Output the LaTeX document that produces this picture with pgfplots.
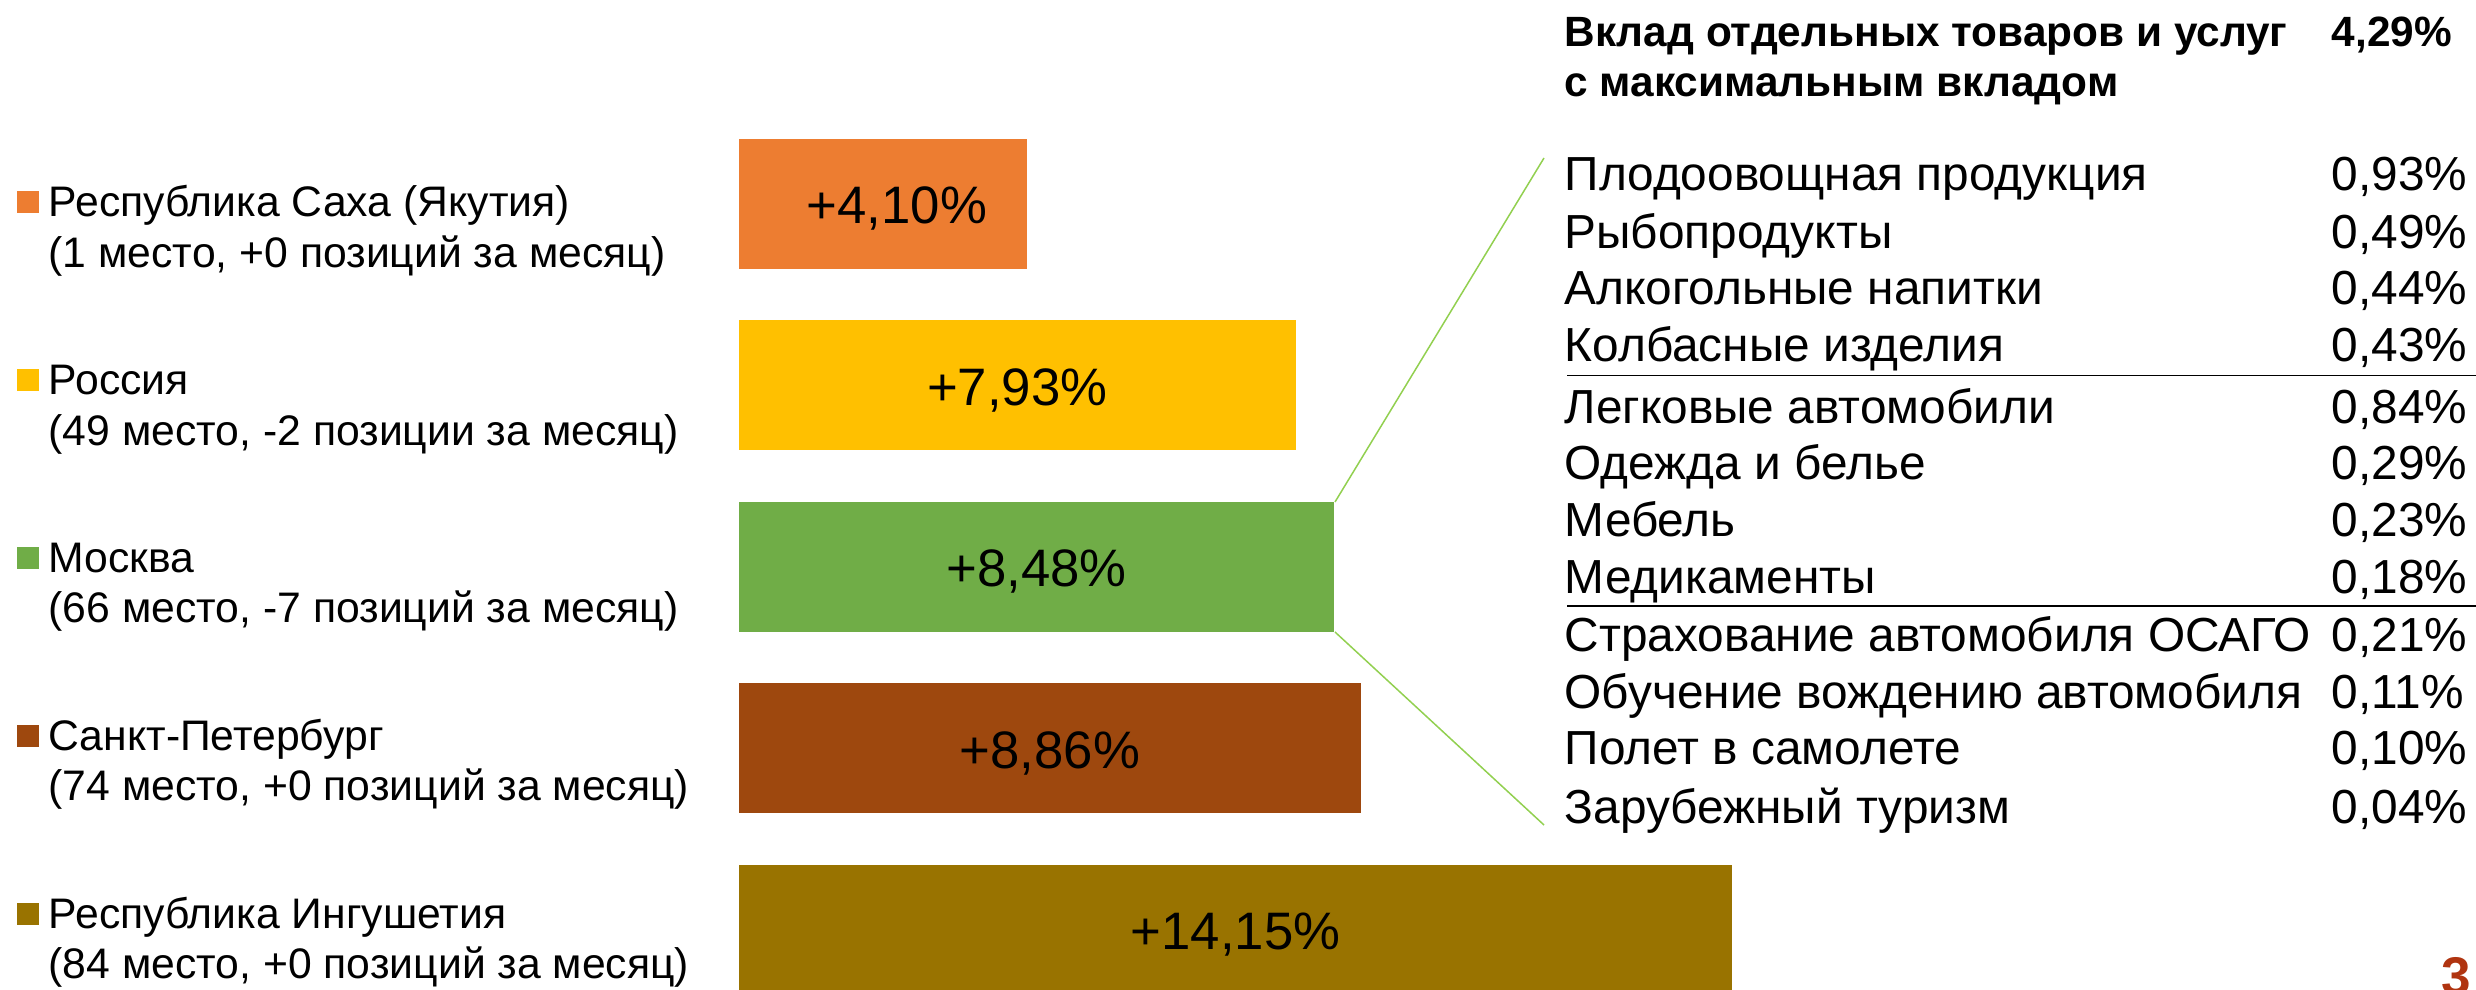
\documentclass[border=0pt]{standalone}
\usepackage{fontspec}
\setmainfont{Liberation Sans}
\usepackage{pgfplots}
\pgfplotsset{compat=1.18}
\definecolor{c1}{HTML}{ED7D31}
\definecolor{c2}{HTML}{FFC000}
\definecolor{c3}{HTML}{70AD47}
\definecolor{c4}{HTML}{9E480E}
\definecolor{c5}{HTML}{997300}
\definecolor{lg}{HTML}{92D050}
\definecolor{pg}{RGB}{176,52,16}
\newcommand{\leg}[3]{\begin{tabular}{@{}l@{\hspace{1mm}}l@{}}\raisebox{0.4mm}{\textcolor{#1}{\rule{2.2mm}{2.2mm}}} & #2\\ & #3\end{tabular}}
\newcommand{\itemfont}{\fontsize{13.6pt}{16.3pt}\selectfont}
\newcommand{\headfont}{\bfseries\fontsize{12.05pt}{14.5pt}\selectfont}
\begin{document}
\begin{tikzpicture}[x=0.1mm,y=-0.1mm]
\useasboundingbox (0,0) rectangle (2476,990);
\begin{axis}[
  at={(73.9mm,-2.2mm)}, anchor=north west,
  x=7.02mm, y=18.15mm, y dir=reverse,
  xmin=0, xmax=15, ymin=0, ymax=5.6,
  xbar, bar width=13mm,
  axis line style={draw=none}, major tick style={draw=none},
  xtick=\empty, ytick={1,2,3,4,5},
  yticklabels={
    {\leg{c1}{Республика Саха (Якутия)}{(1 место, +0 позиций за месяц)}},
    {\leg{c2}{Россия}{(49 место, -2 позиции за месяц)}},
    {\leg{c3}{Москва}{(66 место, -7 позиций за месяц)}},
    {\leg{c4}{Санкт-Петербург}{(74 место, +0 позиций за месяц)}},
    {\leg{c5}{Республика Ингушетия}{(84 место, +0 позиций за месяц)}}
  },
  yticklabel style={anchor=west, inner sep=0pt, xshift=-70.8mm,
    yshift={-2.85mm+\ticknum*0.36mm},
    font=\fontsize{12.15pt}{14.3pt}\selectfont},
  clip=false,
  point meta=x,
  nodes near coords={+\pgfmathprintnumber[fixed,fixed zerofill,precision=2,use comma,assume math mode=true]{\pgfplotspointmeta}\%},
  visualization depends on={x \as \rawx},
  every node near coord/.append style={anchor=center, xshift={-0.5*\rawx*7.02mm}, yshift=-0.5mm, text=black,
    font=\fontsize{15pt}{18pt}\selectfont},
]
\addplot[fill=c1, draw=none, bar shift=0pt, every node near coord/.append style={xshift=1.4mm}] coordinates {(4.10,1)};
\addplot[fill=c2, draw=none, bar shift=0pt] coordinates {(7.93,2)};
\addplot[fill=c3, draw=none, bar shift=0pt] coordinates {(8.48,3)};
\addplot[fill=c4, draw=none, bar shift=0pt] coordinates {(8.86,4)};
\addplot[fill=c5, draw=none, bar shift=0pt] coordinates {(14.15,5)};
\end{axis}
% connector lines
\draw[lg, line width=0.15mm] (1335,502) -- (1544,158);
\draw[lg, line width=0.15mm] (1335,632) -- (1544,825);
% header
\node[anchor=base west, inner sep=0pt, font=\headfont] at (1564,46.7) {Вклад отдельных товаров и услуг};
\node[anchor=base west, inner sep=0pt, font=\headfont] at (2331,46.7) {4,29\%};
\node[anchor=base west, inner sep=0pt, font=\headfont] at (1564,96.7) {с максимальным вкладом};
% items
\foreach \t/\v/\yy in {
  Плодоовощная продукция/{0,93\%}/190.7,
  Рыбопродукты/{0,49\%}/248.3,
  Алкогольные напитки/{0,44\%}/305,
  Колбасные изделия/{0,43\%}/361.7,
  Легковые автомобили/{0,84\%}/423.3,
  Одежда и белье/{0,29\%}/480,
  Мебель/{0,23\%}/536.7,
  Медикаменты/{0,18\%}/593.3,
  Страхование автомобиля ОСАГО/{0,21\%}/651.7,
  Обучение вождению автомобиля/{0,11\%}/708.3,
  Полет в самолете/{0,10\%}/765,
  Зарубежный туризм/{0,04\%}/823.3}{
  \node[anchor=base west, inner sep=0pt, font=\itemfont] at (1564,\yy) {\t};
  \node[anchor=base west, inner sep=0pt, font=\itemfont] at (2331,\yy) {\v};
}
\draw[line width=0.15mm] (1567,375.7) -- (2476,375.7);
\draw[line width=0.15mm] (1567,606) -- (2476,606);
\node[anchor=base west, inner sep=0pt, text=pg, font=\bfseries\fontsize{15.1pt}{18pt}\selectfont] at (2441,995) {3};
\end{tikzpicture}
\end{document}
